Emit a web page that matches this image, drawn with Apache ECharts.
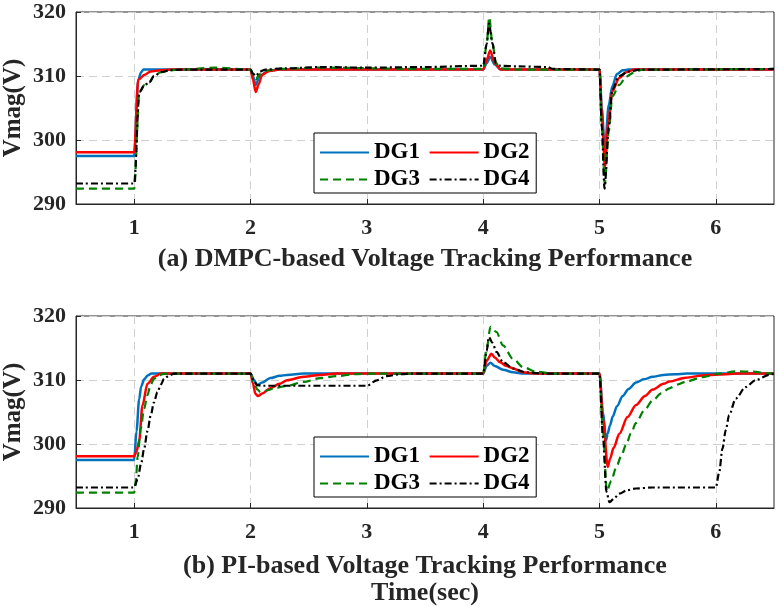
<!DOCTYPE html>
<html>
<head>
<meta charset="utf-8">
<script src="https://cdn.jsdelivr.net/npm/echarts@6/dist/echarts.min.js"></script>
<style>
  html, body { margin: 0; padding: 0; background: #fff; }
  #chart { width: 780px; height: 606px; }
</style>
</head>
<body>
<div id="chart"></div>
<script>
// ---- data (time in s, voltage in V) ----
const seriesNames = ["DG1", "DG2", "DG3", "DG4"];
const xTicks = [1, 2, 3, 4, 5, 6];

// (a) DMPC
const dmpcT1 = [0.5, 1.0, 1.035, 1.06, 1.08, 2.0, 2.02, 2.045, 2.08, 2.15, 2.25, 4.0, 4.03, 4.06, 4.1, 4.15, 5.0, 5.02, 5.045, 5.08, 5.11, 5.15, 5.2, 5.25, 6.5];
const dmpcV1 = [297.5, 297.5, 309.4, 310.6, 311.0, 311.0, 310.0, 308.6, 310.0, 310.8, 311.0, 311.0, 312.0, 313.0, 311.8, 311.0, 311.0, 305.0, 298.3, 305.5, 308.4, 310.3, 310.9, 311.0, 311.0];
const dmpcT2 = [0.5, 1.0, 1.035, 1.09, 1.14, 1.23, 1.32, 2.0, 2.02, 2.045, 2.07, 2.1, 2.16, 2.25, 4.0, 4.03, 4.06, 4.1, 4.15, 5.0, 5.02, 5.047, 5.08, 5.11, 5.17, 5.23, 5.3, 6.5];
const dmpcV2 = [298.1, 298.1, 309.4, 310.2, 310.7, 310.9, 311.0, 311.0, 309.5, 307.5, 308.7, 310.2, 310.8, 311.0, 311.0, 312.5, 314.0, 312.0, 311.0, 311.0, 304.0, 295.8, 303.5, 307.6, 309.7, 310.6, 311.0, 311.0];
const dmpcT3 = [0.5, 1.0, 1.045, 1.09, 1.13, 1.17, 1.23, 1.31, 1.4, 1.7, 2.0, 2.02, 2.045, 2.08, 2.15, 2.25, 2.6, 3.5, 4.0, 4.03, 4.052, 4.08, 4.11, 4.15, 4.3, 5.0, 5.02, 5.045, 5.08, 5.11, 5.17, 5.23, 5.29, 5.37, 6.5];
const dmpcV3 = [292.4, 292.4, 307.5, 308.6, 309.0, 310.0, 310.6, 310.9, 311.0, 311.3, 311.0, 310.2, 309.5, 310.3, 310.9, 311.1, 311.3, 311.1, 311.1, 315.0, 319.2, 315.0, 312.0, 311.2, 311.0, 311.0, 302.0, 293.2, 301.4, 306.8, 308.6, 309.9, 310.5, 311.0, 311.1];
const dmpcT4 = [0.5, 1.0, 1.045, 1.09, 1.13, 1.17, 1.23, 1.31, 1.4, 2.0, 2.02, 2.045, 2.08, 2.13, 2.3, 2.6, 3.0, 3.5, 4.0, 4.03, 4.05, 4.08, 4.11, 4.15, 4.3, 4.55, 4.6, 5.0, 5.02, 5.043, 5.08, 5.11, 5.17, 5.25, 5.35, 6.5];
const dmpcV4 = [293.2, 293.2, 307.5, 308.6, 309.0, 310.0, 310.6, 310.9, 311.0, 311.0, 310.4, 310.0, 310.7, 311.0, 311.2, 311.4, 311.3, 311.4, 311.6, 315.0, 318.2, 315.1, 312.0, 311.6, 311.5, 311.4, 311.1, 311.0, 302.0, 292.4, 302.0, 307.9, 310.0, 310.7, 311.0, 311.1];

// (b) PI
const piT1 = [0.5, 1.0, 1.02, 1.043, 1.06, 1.086, 1.115, 1.15, 2.0, 2.03, 2.057, 2.1, 2.171, 2.25, 2.314, 2.457, 4.0, 4.03, 4.063, 4.1, 4.171, 4.257, 4.35, 5.0, 5.03, 5.057, 5.07, 5.09, 5.114, 5.15, 5.2, 5.25, 5.314, 5.38, 5.457, 5.55, 5.65, 5.75, 6.5];
const piV1 = [297.5, 297.5, 302.0, 307.0, 309.0, 310.1, 310.7, 311.0, 311.0, 310.0, 309.2, 309.6, 310.3, 310.65, 310.8, 311.0, 311.0, 312.2, 312.7, 312.2, 311.6, 311.2, 311.0, 311.0, 305.0, 300.6, 301.6, 302.9, 304.3, 305.9, 307.5, 308.6, 309.6, 310.1, 310.5, 310.8, 310.9, 311.0, 311.0];
const piT2 = [0.5, 1.0, 1.02, 1.043, 1.071, 1.114, 1.171, 1.23, 2.0, 2.02, 2.043, 2.065, 2.1, 2.171, 2.25, 2.314, 2.457, 2.6, 2.743, 4.0, 4.03, 4.071, 4.1, 4.143, 4.2, 4.257, 4.343, 4.457, 5.0, 5.03, 5.071, 5.091, 5.121, 5.171, 5.241, 5.314, 5.391, 5.457, 5.551, 5.6, 5.741, 5.886, 6.03, 6.2, 6.5];
const piV2 = [298.1, 298.1, 298.8, 300.5, 306.0, 309.4, 310.5, 311.0, 311.0, 309.5, 307.8, 307.5, 307.9, 308.7, 309.4, 309.95, 310.5, 310.8, 311.0, 311.0, 313.0, 314.1, 313.5, 312.8, 312.2, 311.8, 311.2, 311.0, 311.0, 304.0, 296.4, 297.7, 299.4, 301.6, 304.2, 306.1, 307.5, 308.5, 309.4, 309.75, 310.35, 310.7, 310.85, 311.0, 311.0];
const piT3 = [0.5, 1.0, 1.015, 1.03, 1.057, 1.085, 1.114, 1.14, 1.171, 1.21, 1.26, 2.0, 2.03, 2.06, 2.086, 2.15, 2.2, 2.314, 2.457, 2.6, 2.743, 2.886, 3.03, 4.0, 4.03, 4.063, 4.114, 4.171, 4.257, 4.343, 4.457, 4.6, 5.0, 5.03, 5.063, 5.1, 5.143, 5.186, 5.229, 5.271, 5.314, 5.386, 5.457, 5.53, 5.6, 5.67, 5.743, 5.886, 6.03, 6.171, 6.314, 6.457, 6.5];
const piV3 = [292.4, 292.4, 294.5, 298.0, 302.4, 305.5, 307.6, 309.2, 310.2, 310.7, 311.0, 311.0, 309.5, 308.5, 308.1, 308.4, 308.7, 309.1, 309.7, 310.3, 310.6, 310.9, 311.0, 311.0, 315.0, 318.3, 317.5, 315.4, 313.3, 312.0, 311.3, 311.0, 311.0, 302.0, 292.6, 294.2, 296.3, 298.1, 299.9, 301.7, 303.3, 305.3, 306.8, 307.9, 308.7, 309.3, 309.75, 310.45, 311.0, 311.35, 311.3, 311.05, 311.0];
const piT4 = [0.5, 1.0, 1.03, 1.06, 1.086, 1.114, 1.143, 1.17, 1.2, 1.23, 1.257, 1.3, 1.343, 2.0, 2.03, 2.057, 2.1, 3.0, 3.086, 3.17, 3.286, 3.4, 4.0, 4.03, 4.049, 4.08, 4.114, 4.171, 4.257, 4.37, 4.5, 5.0, 5.03, 5.06, 5.086, 5.13, 5.171, 5.24, 5.314, 5.457, 6.0, 6.029, 6.057, 6.086, 6.114, 6.171, 6.257, 6.343, 6.457, 6.5];
const piV4 = [293.2, 293.2, 294.5, 297.0, 299.3, 302.0, 304.5, 306.5, 308.1, 309.3, 310.2, 310.7, 311.0, 311.0, 309.8, 309.2, 309.1, 309.1, 309.95, 310.6, 310.9, 311.0, 311.0, 314.5, 316.7, 315.8, 314.4, 312.8, 311.8, 311.2, 311.0, 311.0, 301.0, 292.5, 290.9, 291.6, 292.25, 292.8, 293.05, 293.2, 293.2, 295.6, 299.3, 302.2, 304.5, 307.1, 308.9, 310.0, 310.8, 311.0];

const dmpcData = [[dmpcT1, dmpcV1], [dmpcT2, dmpcV2], [dmpcT3, dmpcV3], [dmpcT4, dmpcV4]];
const piData = [[piT1, piV1], [piT2, piV2], [piT3, piV3], [piT4, piV4]];

const FONT = "'Liberation Serif', 'Times New Roman', serif";
const TXT = "#262626";
const styles = [
  { color: "#0072BD", width: 2.5, type: "solid" },
  { color: "#FF0000", width: 2.5, type: "solid" },
  { color: "#008000", width: 2.2, type: [8, 5] },
  { color: "#000000", width: 2.2, type: [7, 3, 2, 3] },
];

function pts(t, v) {
  return t.map((x, i) => [x, v[i]]);
}

function xAxisFor(gridIndex, name) {
  return {
    type: "value", gridIndex: gridIndex, min: 0.5, max: 6.5,
    name: name, nameLocation: "middle", nameGap: gridIndex === 0 ? 42 : 45,
    nameTextStyle: { fontFamily: FONT, fontWeight: "bold", fontSize: 26, color: TXT, lineHeight: 27 },
    axisLine: { lineStyle: { color: TXT, width: 1 } },
    axisTick: { inside: true, length: 5, customValues: xTicks, lineStyle: { color: TXT } },
    axisLabel: { customValues: xTicks, fontFamily: FONT, fontWeight: "bold", fontSize: 22, color: TXT, margin: 13 },
    splitLine: { show: true, lineStyle: { color: "#d0d0d0", type: [8, 5], width: 1 } },
  };
}

function yAxisFor(gridIndex) {
  return {
    type: "value", gridIndex: gridIndex, min: 290, max: 320, interval: 10,
    name: "Vmag(V)", nameLocation: "middle", nameGap: 50, nameRotate: 90, nameMoveOverlap: false,
    nameTextStyle: { fontFamily: FONT, fontWeight: "bold", fontSize: 25, color: TXT },
    axisLine: { show: true, lineStyle: { color: TXT, width: 1 } },
    axisTick: { show: true, inside: true, length: 5, lineStyle: { color: TXT } },
    axisLabel: { fontFamily: FONT, fontWeight: "bold", fontSize: 22, color: TXT, margin: 10 },
    splitLine: { show: true, lineStyle: { color: "#d0d0d0", type: [8, 5], width: 1 } },
  };
}

function legendFor(top) {
  return {
    left: 314, top: top, width: 226, orient: "horizontal",
    data: seriesNames,
    formatter: function (name) { return name + "\u2009"; },
    itemWidth: 49, itemHeight: 14, itemGap: 4,
    padding: [8, 2, 2, 5],
    backgroundColor: "#fff", borderColor: "#000", borderWidth: 1, borderRadius: 0,
    itemStyle: { opacity: 0, color: "rgba(0,0,0,0)", borderWidth: 0 },
    textStyle: { fontFamily: FONT, fontWeight: "bold", fontSize: 23, color: "#000" },
  };
}

const series = [];
[dmpcData, piData].forEach(function (set, g) {
  set.forEach(function (d, i) {
    series.push({
      name: seriesNames[i], type: "line", xAxisIndex: g, yAxisIndex: g,
      data: pts(d[0], d[1]), symbol: "none", showSymbol: false,
      smooth: 0.3, smoothMonotone: "x",
      lineStyle: styles[i], itemStyle: { color: styles[i].color },
      animation: false, z: 2 + i,
    });
  });
});

const chart = echarts.init(document.getElementById("chart"));
chart.setOption({
  backgroundColor: "#fff",
  animation: false,
  grid: [
    { left: 76, top: 12, width: 698, height: 192, show: true, borderColor: TXT, borderWidth: 1, backgroundColor: "transparent", containLabel: false, outerBoundsMode: "none" },
    { left: 76, top: 316, width: 698, height: 192, show: true, borderColor: TXT, borderWidth: 1, backgroundColor: "transparent", containLabel: false, outerBoundsMode: "none" },
  ],
  xAxis: [
    xAxisFor(0, "(a) DMPC-based Voltage Tracking Performance"),
    xAxisFor(1, "(b) PI-based Voltage Tracking Performance\nTime(sec)"),
  ],
  yAxis: [yAxisFor(0), yAxisFor(1)],
  legend: [legendFor(133), legendFor(437)],
  series: series,
});
</script>
</body>
</html>
